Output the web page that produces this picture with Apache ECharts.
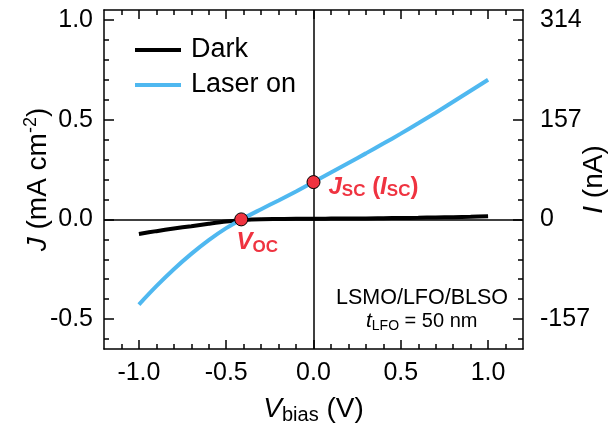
<!DOCTYPE html>
<html><head><meta charset="utf-8">
<script src="https://cdn.jsdelivr.net/npm/echarts@6/dist/echarts.min.js"></script>
<style>html,body{margin:0;padding:0;background:#fff}#c{width:610px;height:427px}</style>
</head><body><div id="c"></div>
<script>
// ---- data ----
const voltage = [-1.0,-0.9,-0.8,-0.7,-0.6,-0.5,-0.4,-0.3,-0.2,-0.1,0.0,0.1,0.2,0.3,0.4,0.5,0.6,0.7,0.8,0.9,1.0];
const jDark   = [-0.073,-0.059,-0.046,-0.034,-0.022,-0.011,-0.003,0.001,0.002,0.003,0.003,0.004,0.005,0.005,0.006,0.007,0.008,0.010,0.011,0.013,0.016];
const jLaser  = [-0.427,-0.335,-0.250,-0.173,-0.104,-0.044,0.006,0.051,0.095,0.140,0.187,0.235,0.283,0.331,0.380,0.430,0.482,0.535,0.590,0.645,0.700];
const keyV = [-0.414, 0.0];
const keyJ = [0.0, 0.187];
const xMajor = [-1.0,-0.5,0.0,0.5,1.0];
const xMinor = [-1.1,-0.9,-0.8,-0.7,-0.6,-0.4,-0.3,-0.2,-0.1,0.1,0.2,0.3,0.4,0.6,0.7,0.8,0.9,1.1];
const yMajor = [-0.5,0.0,0.5,1.0];
const yMinor = [-0.6,-0.4,-0.3,-0.2,-0.1,0.1,0.2,0.3,0.4,0.6,0.7,0.8,0.9];
const yRightLabels = ['-157','0','157','314'];
const seriesNames = ['Dark','Laser on'];

const FONT = "'Liberation Sans', Arial, sans-serif";
const RED = '#EF3340';
const BLUE = '#4FB8F0';
const pairs = (xs, ys) => xs.map((x, i) => [x, ys[i]]);

const chart = echarts.init(document.getElementById('c'), null, {renderer: 'canvas'});
const axisLine = {show: true, onZero: false, lineStyle: {color: '#000', width: 1.5}};
const noLine = {show: false, onZero: false};
const xBase = {type: 'value', min: -1.2, max: 1.2, splitLine: {show: false}};
const yBase = {type: 'value', min: -0.65, max: 1.05, splitLine: {show: false}};
const tickLbl = {fontFamily: FONT, fontSize: 25, color: '#000'};

const option = {
  animation: false,
  backgroundColor: '#fff',
  textStyle: {fontFamily: FONT},
  grid: {left: 104, right: 87, top: 10, bottom: 78, containLabel: false, outerBoundsMode: 'none'},
  legend: {
    data: seriesNames, orient: 'vertical', left: 130, top: 30,
    icon: 'rect', itemWidth: 46, itemHeight: 4, itemGap: 5,
    textStyle: {fontFamily: FONT, fontSize: 27, color: '#000', lineHeight: 30, padding: [0,0,0,5]}
  },
  xAxis: [
    Object.assign({}, xBase, {position: 'bottom', axisLine,
      axisTick: {show: true, inside: true, length: 9, lineStyle: {width: 1.5, color: '#000'}, customValues: xMajor},
      axisLabel: Object.assign({}, tickLbl, {customValues: xMajor, margin: 12, formatter: v => v.toFixed(1)}),
      name: '{i|V}{s|bias}{n| (V)}', nameLocation: 'middle', nameGap: 44, nameMoveOverlap: false,
      nameTextStyle: {rich: {
        i: {fontFamily: FONT, fontSize: 28, fontStyle: 'italic', color: '#000', lineHeight: 32},
        s: {fontFamily: FONT, fontSize: 20, color: '#000', verticalAlign: 'bottom', lineHeight: 22},
        n: {fontFamily: FONT, fontSize: 28, color: '#000', lineHeight: 32}}}}),
    Object.assign({}, xBase, {position: 'bottom', axisLine: noLine,
      axisTick: {show: true, inside: true, length: 5, lineStyle: {width: 1.5, color: '#000'}, customValues: xMinor},
      axisLabel: {show: false}}),
    Object.assign({}, xBase, {position: 'top', axisLine,
      axisTick: {show: true, inside: true, length: 9, lineStyle: {width: 1.5, color: '#000'}, customValues: xMajor},
      axisLabel: {show: false}}),
    Object.assign({}, xBase, {position: 'top', axisLine: noLine,
      axisTick: {show: true, inside: true, length: 5, lineStyle: {width: 1.5, color: '#000'}, customValues: xMinor},
      axisLabel: {show: false}})
  ],
  yAxis: [
    Object.assign({}, yBase, {position: 'left', axisLine,
      axisTick: {show: true, inside: true, length: 10, lineStyle: {width: 1.5, color: '#000'}, customValues: yMajor},
      axisLabel: Object.assign({}, tickLbl, {customValues: yMajor, margin: 11, formatter: v => v.toFixed(1)}),
      name: '{i|J}{n| (mA cm}{p|-2}{n|)}', nameLocation: 'middle', nameGap: 50, nameRotate: 90, nameMoveOverlap: false,
      nameTextStyle: {rich: {
        i: {fontFamily: FONT, fontSize: 28, fontStyle: 'italic', color: '#000', lineHeight: 32},
        p: {fontFamily: FONT, fontSize: 18, color: '#000', verticalAlign: 'top', lineHeight: 20},
        n: {fontFamily: FONT, fontSize: 28, color: '#000', lineHeight: 32}}}}),
    Object.assign({}, yBase, {position: 'left', axisLine: noLine,
      axisTick: {show: true, inside: true, length: 5, lineStyle: {width: 1.5, color: '#000'}, customValues: yMinor},
      axisLabel: {show: false}}),
    Object.assign({}, yBase, {position: 'right', axisLine,
      axisTick: {show: true, inside: true, length: 10, lineStyle: {width: 1.5, color: '#000'}, customValues: yMajor},
      axisLabel: Object.assign({}, tickLbl, {customValues: yMajor, margin: 17,
        formatter: v => yRightLabels[yMajor.findIndex(m => Math.abs(m - v) < 1e-6)]}),
      name: '{i|I}{n| (nA)}', nameLocation: 'middle', nameGap: 55, nameRotate: 90, nameMoveOverlap: false,
      nameTextStyle: {rich: {
        i: {fontFamily: FONT, fontSize: 28, fontStyle: 'italic', color: '#000', lineHeight: 32},
        n: {fontFamily: FONT, fontSize: 28, color: '#000', lineHeight: 32}}}}),
    Object.assign({}, yBase, {position: 'right', axisLine: noLine,
      axisTick: {show: true, inside: true, length: 5, lineStyle: {width: 1.5, color: '#000'}, customValues: yMinor},
      axisLabel: {show: false}})
  ],
  series: [
    {
      name: seriesNames[0], type: 'line', xAxisIndex: 0, yAxisIndex: 0,
      data: pairs(voltage, jDark), showSymbol: false, smooth: 0.3, z: 3,
      itemStyle: {color: '#000'}, lineStyle: {color: '#000', width: 4},
      markLine: {silent: true, symbol: 'none', label: {show: false},
        lineStyle: {color: '#000', width: 1.5, type: 'solid'},
        data: [{xAxis: 0}, {yAxis: 0}]}
    },
    {
      name: seriesNames[1], type: 'line', xAxisIndex: 0, yAxisIndex: 0,
      data: pairs(voltage, jLaser), showSymbol: false, smooth: 0.3, z: 4,
      itemStyle: {color: BLUE}, lineStyle: {color: BLUE, width: 4}
    },
    {
      name: 'points', type: 'scatter', xAxisIndex: 0, yAxisIndex: 0, z: 10,
      symbolSize: 13, itemStyle: {color: RED, borderColor: '#000', borderWidth: 1, opacity: 1},
      data: [
        {value: [keyV[0], keyJ[0]], label: {show: true, position: 'bottom', distance: 2, offset: [16, 1],
          formatter: '{b|V}{s|OC}'}},
        {value: [keyV[1], keyJ[1]], label: {show: true, position: 'right', distance: 8, offset: [0, 5],
          formatter: '{b|J}{s|SC}{p| (}{b|I}{s|SC}{p|)}'}}
      ],
      label: {opacity: 1, rich: {
        b: {fontFamily: FONT, fontSize: 24, fontWeight: 'bold', fontStyle: 'italic', color: RED, lineHeight: 26},
        s: {fontFamily: FONT, fontSize: 17, fontWeight: 'bold', color: RED, verticalAlign: 'bottom', lineHeight: 18},
        p: {fontFamily: FONT, fontSize: 24, fontWeight: 'bold', color: RED, lineHeight: 26}}}
    }
  ],
  graphic: [
    {type: 'text', left: 336, top: 287, style: {text: 'LSMO/LFO/BLSO', font: "21.5px 'Liberation Sans', Arial", fill: '#000'}},
    {type: 'text', left: 366, top: 311, style: {
      text: '{i|t}{s|LFO}{n| = 50 nm}',
      rich: {
        i: {fontFamily: FONT, fontSize: 21, fontStyle: 'italic', fill: '#000', lineHeight: 24},
        s: {fontFamily: FONT, fontSize: 14, fill: '#000', verticalAlign: 'bottom', lineHeight: 15},
        n: {fontFamily: FONT, fontSize: 20, fill: '#000', lineHeight: 24}}}}
  ]
};
chart.setOption(option);
</script>
</body></html>
